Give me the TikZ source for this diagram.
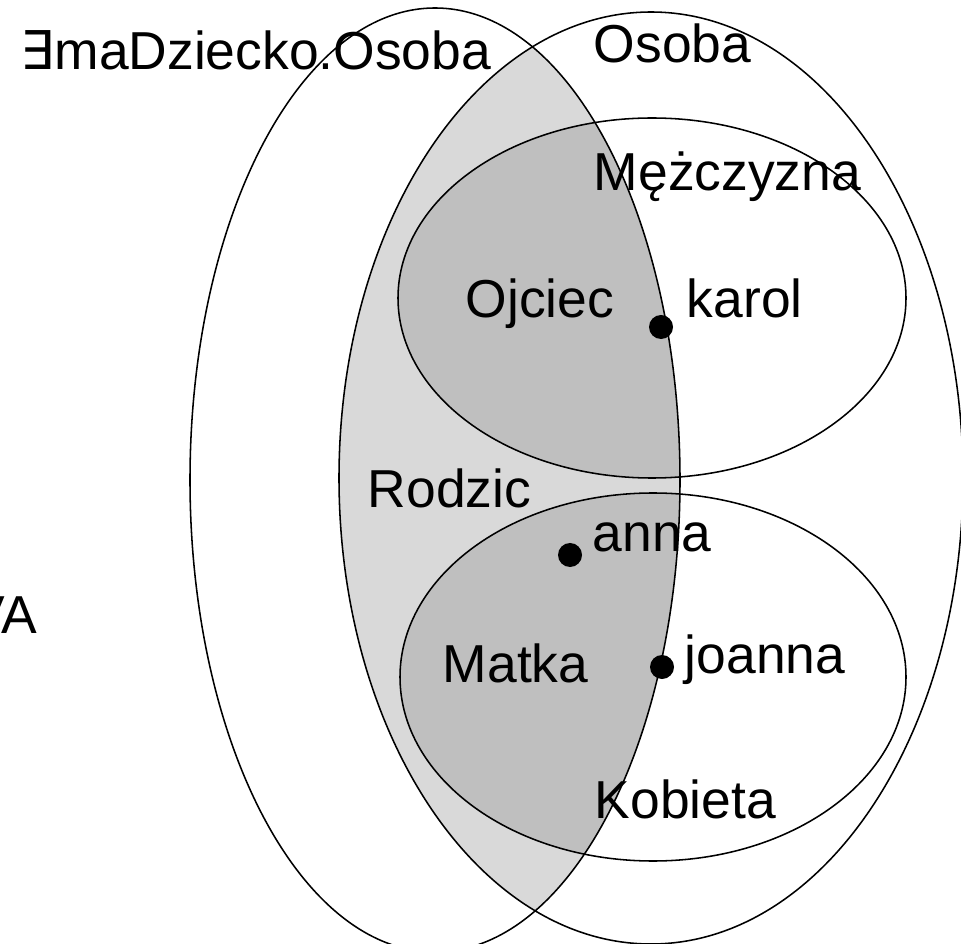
\documentclass[tikz,border=0pt]{standalone}
\usepackage{fontspec}
\setmainfont{Liberation Sans}
\newfontfamily\symfont{DejaVu Sans}
\tikzset{
  lbl/.style={anchor=base west, inner sep=0pt, font=\fontsize{38}{45}\selectfont},
  elem/.style={circle, fill=black, inner sep=0pt, minimum size=0.6cm},
}
\begin{document}
\begin{tikzpicture}[x=0.025cm, y=-0.025cm, line width=1.1pt]
			\useasboundingbox (0,0) rectangle (961,944);
			
			% shaded parts
			\begin{scope}
				\clip (435,480) ellipse [x radius=245, y radius=472];
				\fill[black!15] (651,478) ellipse [x radius=312, y radius=466];
				\fill[black!25] (652,298) ellipse [x radius=254, y radius=180];
				\fill[black!25] (653,677) ellipse [x radius=253, y radius=184];
			\end{scope}
			
			% outlines
			\draw (435,480) ellipse [x radius=245, y radius=472];
			\draw (651,478) ellipse [x radius=312, y radius=466];
			\draw (652,298) ellipse [x radius=254, y radius=180];
			\draw (653,677) ellipse [x radius=253, y radius=184];
			
			% labels
			\node[lbl] (exists) at (20,70) {{\symfont ∃}maDziecko.Osoba};
			\node[lbl] (osoba) at (593,63) {Osoba};
			\node[lbl] (mezczyzna) at (593,191) {Mężczyzna};
			\node[lbl] (ojciec) at (465,318) {Ojciec};
			\node[lbl] (karol) at (686,318) {karol};
			\node[lbl] (rodzic) at (367,508) {Rodzic};
			\node[lbl] (anna) at (592,552) {anna};
			\node[lbl] (matka) at (442,682) {Matka};
			\node[lbl] (joanna) at (684,673) {joanna};
			\node[lbl] (kobieta) at (594,818) {Kobieta};
			\node[lbl, anchor=base east] (va) at (38,633) {VA};
			
			% individuals
			\node[elem] (karolpt) at (661,327) {};
			\node[elem] (annapt) at (570,555) {};
			\node[elem] (joannapt) at (662,667) {};
\end{tikzpicture}
\end{document}
